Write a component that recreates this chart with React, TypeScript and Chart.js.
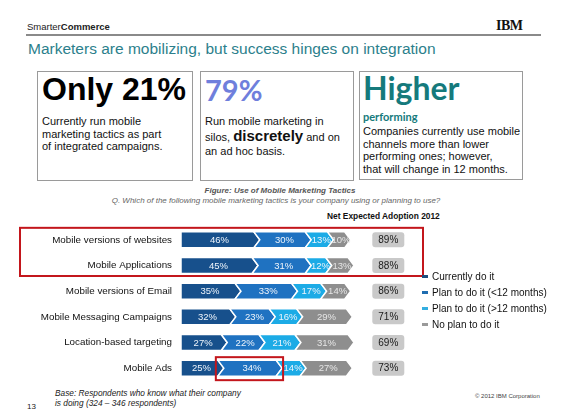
import React, { useEffect, useRef } from "react";
import { Chart, registerables } from "chart.js";

Chart.register(...registerables);

const categories = [
  "Mobile versions of websites",
  "Mobile Applications",
  "Mobile versions of Email",
  "Mobile Messaging Campaigns",
  "Location-based targeting",
  "Mobile Ads",
];
const currentlyDoIt = [46, 45, 35, 32, 27, 25];
const planUnder12 = [30, 31, 33, 23, 22, 34];
const planOver12 = [13, 12, 17, 16, 21, 14];
const noPlan = [10, 13, 14, 29, 31, 27];
const netAdoption = [89, 88, 86, 71, 69, 73];
const seriesNames = [
  "Currently do it",
  "Plan to do it (<12 months)",
  "Plan to do it (>12 months)",
  "No plan to do it",
];
const seriesColors = ["#17508c", "#1f72c1", "#1cabe6", "#8e8e8e"];
const legendColors = ["#1a4e7e", "#1f6db0", "#33aee0", "#9a9a9a"];

const SANS = "'Liberation Sans', Arial, sans-serif";
const NET_POS = 121;
const CW = 412;
const CH = 168;

const chevronPlugin = {
  id: "chevrons",
  beforeDatasetsDraw(chart: any) {
    const ctx = chart.ctx;
    const tip = 6;
    ctx.save();
    chart.data.datasets.forEach((ds: any, di: number) => {
      const meta = chart.getDatasetMeta(di);
      meta.data.forEach((el: any) => {
        const { x, y, base, height } = el;
        const t = y - height / 2;
        const b = y + height / 2;
        ctx.beginPath();
        ctx.moveTo(di === 0 ? base : base - tip, t);
        ctx.lineTo(x - tip, t);
        ctx.lineTo(x, y);
        ctx.lineTo(x - tip, b);
        if (di === 0) {
          ctx.lineTo(base, b);
        } else {
          ctx.lineTo(base - tip, b);
          ctx.lineTo(base, y);
        }
        ctx.closePath();
        ctx.fillStyle = ds.backgroundColor;
        ctx.fill();
        ctx.lineWidth = 1.5;
        ctx.strokeStyle = "#ffffff";
        ctx.stroke();
      });
    });
    ctx.font = `9.5px ${SANS}`;
    ctx.textAlign = "center";
    ctx.textBaseline = "middle";
    chart.data.datasets.forEach((ds: any, di: number) => {
      const meta = chart.getDatasetMeta(di);
      meta.data.forEach((el: any, i: number) => {
        ctx.fillStyle = di === 3 ? "#e6e6e6" : "#eef4fb";
        ctx.fillText(ds.data[i] + "%", (el.base + el.x) / 2 - 1, el.y + 0.5);
      });
    });
    ctx.restore();
    return false;
  },
  afterDraw(chart: any) {
    const ctx = chart.ctx;
    const xs = chart.scales.x;
    const ys = chart.scales.y;
    ctx.save();
    // net adoption boxes
    const cx = xs.getPixelForValue(NET_POS);
    ctx.font = `10px ${SANS}`;
    ctx.textAlign = "center";
    ctx.textBaseline = "middle";
    netAdoption.forEach((v, i) => {
      const cy = ys.getPixelForValue(i);
      const w = 32;
      const h = 15;
      ctx.beginPath();
      ctx.roundRect(cx - w / 2, cy - h / 2, w, h, 3);
      ctx.fillStyle = "#c9c9c9";
      ctx.fill();
      ctx.fillStyle = "#1a1a1a";
      ctx.fillText(v + "%", cx, cy + 0.5);
    });
    // highlight boxes
    ctx.strokeStyle = "#c3161c";
    ctx.lineWidth = 2;
    const y0 = ys.getPixelForValue(0);
    const y1 = ys.getPixelForValue(1);
    ctx.strokeRect(6, y0 - 12, chart.width - 9, y1 + 10.5 - (y0 - 12));
    const el = chart.getDatasetMeta(1).data[5];
    if (el) {
      ctx.strokeRect(el.base - 8, el.y - 11, el.x + 1 - (el.base - 8), 23);
    }
    ctx.restore();
  },
};

function BarChart() {
  const ref = useRef<HTMLCanvasElement>(null);
  useEffect(() => {
    if (!ref.current) return;
    const data = [currentlyDoIt, planUnder12, planOver12, noPlan];
    const chart = new Chart(ref.current, {
      type: "bar",
      data: {
        labels: categories,
        datasets: data.map((d, i) => ({
          label: seriesNames[i],
          data: d,
          backgroundColor: seriesColors[i],
          barThickness: 16,
        })),
      },
      options: {
        indexAxis: "y",
        animation: false,
        responsive: false,
        devicePixelRatio: 1,
        layout: { padding: { top: 7, bottom: 7, left: 0, right: 0 } },
        plugins: {
          legend: { display: false },
          tooltip: { enabled: false },
        },
        scales: {
          x: { stacked: true, min: 0, max: 143, display: false },
          y: {
            stacked: true,
            grid: {
              display: true,
              drawOnChartArea: false,
              drawTicks: true,
              tickLength: 9,
              color: "rgba(0,0,0,0)",
            },
            border: { display: false },
            ticks: {
              padding: 0,
              color: "#111111",
              font: { family: SANS, size: 9.8 },
            },
            afterFit(scale: any) {
              scale.width = 167;
            },
          },
        },
      },
      plugins: [chevronPlugin],
    } as any);
    return () => chart.destroy();
  }, []);
  return (
    <canvas
      ref={ref}
      width={CW}
      height={CH}
      style={{ position: "absolute", left: 14, top: 220, width: CW, height: CH, display: "block" }}
    />
  );
}

const abs = (left: number, top: number, extra: any = {}) => ({
  position: "absolute" as const,
  left,
  top,
  whiteSpace: "nowrap" as const,
  ...extra,
});

export default function App() {
  return (
    <div
      style={{
        position: "absolute",
        left: 0,
        top: 0,
        width: 570,
        height: 416,
        background: "#ffffff",
        fontFamily: SANS,
        color: "#111",
        overflow: "hidden",
      }}
    >
      {/* header */}
      <div style={abs(27, 21, { fontSize: 9.5, lineHeight: "12px", color: "#222" })}>
        Smarter<b>Commerce</b>
      </div>
      <div
        style={abs(496, 19, {
          fontSize: 14,
          lineHeight: "14px",
          fontWeight: 900,
          fontFamily: "'Liberation Serif', serif",
          letterSpacing: -0.5,
          color: "#111",
        })}
      >
        IBM
      </div>
      <div style={{ position: "absolute", left: 26, top: 34, width: 515, height: 1.5, background: "#8a8a8a" }} />
      <div style={abs(28, 40, { fontSize: 15.5, lineHeight: "18px", color: "#2c7f8c" })}>
        Marketers are mobilizing, but success hinges on integration
      </div>

      {/* box 1 */}
      <div style={{ position: "absolute", left: 37, top: 71, width: 154, height: 108, border: "1px solid #9a9a9a" }} />
      <div style={abs(42, 73, { fontSize: 32, lineHeight: "32px", fontWeight: 700, color: "#000" })}>Only 21%</div>
      <div style={abs(42, 115, { fontSize: 11, lineHeight: "12.5px", color: "#111" })}>
        Currently run mobile
        <br />
        marketing tactics as part
        <br />
        of integrated campaigns.
      </div>

      {/* box 2 */}
      <div style={{ position: "absolute", left: 200, top: 71, width: 152, height: 108, border: "1px solid #9a9a9a" }} />
      <div style={abs(205, 75, { fontSize: 29, lineHeight: "29px", fontWeight: 700, fontFamily: "Lato, sans-serif", color: "#6f7fdc" })}>
        79%
      </div>
      <div style={abs(205, 114, { fontSize: 11, lineHeight: "14.5px", color: "#111" })}>
        Run mobile marketing in
        <br />
        silos, <b style={{ fontSize: 15 }}>discretely</b> and on
        <br />
        an ad hoc basis.
      </div>

      {/* box 3 */}
      <div style={{ position: "absolute", left: 359, top: 71, width: 162, height: 107, border: "1px solid #9a9a9a" }} />
      <div style={abs(363, 72, { fontSize: 32, lineHeight: "32px", fontWeight: 700, fontFamily: "Lato, sans-serif", color: "#157a7c" })}>
        Higher
      </div>
      <div style={abs(363, 110, { fontSize: 11, lineHeight: "14px", fontWeight: 700, fontFamily: "Lato, sans-serif", color: "#157a7c" })}>
        performing
      </div>
      <div style={abs(363, 125, { fontSize: 11, lineHeight: "12.7px", color: "#111" })}>
        Companies currently use mobile
        <br />
        channels more than lower
        <br />
        performing ones; however,
        <br />
        that will change in 12 months.
      </div>

      {/* captions */}
      <div style={abs(0, 186, { width: 560, textAlign: "center", fontSize: 8, lineHeight: "10px", fontWeight: 700, fontStyle: "italic", color: "#555" })}>
        Figure: Use of Mobile Marketing Tactics
      </div>
      <div style={abs(0, 196, { width: 552, textAlign: "center", fontSize: 8, lineHeight: "10px", fontStyle: "italic", color: "#666" })}>
        Q. Which of the following mobile marketing tactics is your company using or planning to use?
      </div>
      <div style={abs(327, 211, { fontSize: 8.4, lineHeight: "10px", fontWeight: 700, color: "#111" })}>
        Net Expected Adoption 2012
      </div>

      <BarChart />

      {/* legend */}
      {seriesNames.map((name, i) => (
        <div key={name} style={abs(422, 270 + i * 16, { fontSize: 10, lineHeight: "14px", color: "#111" })}>
          <span
            style={{
              display: "inline-block",
              width: 6,
              height: 3,
              background: legendColors[i],
              verticalAlign: "middle",
              marginRight: 4,
              marginTop: -2,
            }}
          />
          {name}
        </div>
      ))}

      {/* footer */}
      <div style={abs(55, 388, { fontSize: 8.3, lineHeight: "10px", fontStyle: "italic", color: "#222" })}>
        Base: Respondents who know what their company
        <br />
        is doing (324 – 346 respondents)
      </div>
      <div style={abs(27, 402, { fontSize: 8, lineHeight: "10px", color: "#222" })}>13</div>
      <div style={abs(475, 392, { fontSize: 6, lineHeight: "8px", color: "#444" })}>© 2012 IBM Corporation</div>
    </div>
  );
}
